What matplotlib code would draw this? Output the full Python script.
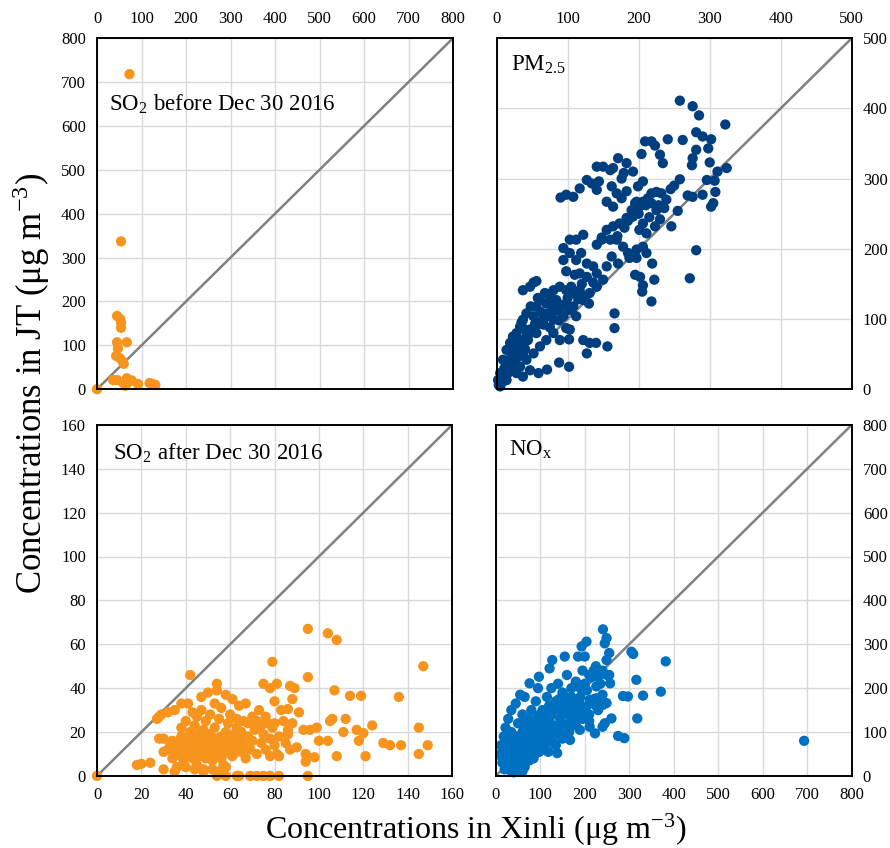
import numpy as np
import matplotlib
matplotlib.use("Agg")
import matplotlib.pyplot as plt

plt.rcParams['font.family'] = ['Liberation Serif', 'DejaVu Serif']
plt.rcParams['mathtext.fontset'] = 'stix'

# SO2 before Dec 30 2016 (Xinli, JT)
so2_pre_x = [0, 73, 54, 45, 52, 54, 54, 45, 67, 47, 43, 51, 58, 60,
             36, 45, 64, 67, 71, 92, 118, 131, 64, 58, 78, 125]
so2_pre_y = [0, 718, 337, 167, 160, 152, 140, 107, 107, 93, 76, 71, 63, 58,
             21, 21, 8, 25, 17, 12, 14, 10, 18, 15, 20, 12]

# PM2.5
pm_x = [258, 276, 285, 322, 281, 290, 302, 298, 281, 262, 241, 218, 223, 209, 204,
        230, 234, 276, 275, 300, 311, 324, 258, 296, 307, 308, 305, 302, 290, 276,
        269, 255, 246, 281, 272, 218, 222, 219, 206, 205, 202, 195, 197, 187, 156,
        166, 166, 140, 131, 127, 122, 102, 89, 88, 102, 71, 59, 148, 89, 88,
        103, 98, 37, 52, 47, 56, 94, 98, 105, 98,
        90, 98, 108, 117, 127, 134, 141, 144, 141, 150, 160, 164, 171, 183, 192,
        179, 176, 169, 162, 155, 164, 176, 183, 199, 206, 197, 201, 206, 213, 218,
        225, 232, 239, 218, 225, 230, 223, 211, 201, 206, 192, 183, 173, 164, 155,
        148, 141, 160, 169, 178, 185, 197, 206, 211, 171, 162, 155, 150, 141, 131,
        136, 127, 119, 112, 103, 94, 103, 112, 122, 110, 117, 127, 136, 141, 89,
        80, 75, 68, 61, 56, 70, 80, 84, 98, 108, 117, 122, 103, 112, 94,
        80, 70, 61, 52, 42, 37, 33, 28, 23, 19, 14, 9, 5, 2, 9,
        16, 23, 33, 42, 52, 61, 70, 80, 42, 47, 56, 33, 37, 28, 23,
        19, 28, 37, 47, 14, 7, 5, 12, 25, 30, 44, 35, 62, 66, 75,
        48, 58, 38, 20, 26, 31, 40, 54, 11, 17,
        190, 195, 200, 210, 215, 185, 180, 170, 228, 236, 245, 250, 120, 125, 130,
        115, 108, 100, 92, 85, 78, 72, 66, 60, 54, 48, 44, 40, 36, 32,
        27, 22, 18, 15, 12, 10, 8, 6, 4, 3, 20, 24, 29, 34, 39]
pm_y = [411, 403, 390, 377, 366, 360, 356, 343, 341, 355, 356, 353, 347, 353, 335,
        334, 322, 329, 319, 323, 310, 315, 299, 298, 297, 281, 265, 260, 277, 274,
        276, 254, 232, 198, 158, 125, 156, 179, 148, 139, 160, 163, 187, 187, 61,
        108, 87, 66, 66, 51, 70, 71, 70, 38, 32, 28, 23, 216, 113, 98,
        85, 87, 141, 152, 146, 154, 184, 168, 146, 122,
        273, 277, 274, 286, 298, 293, 284, 296, 317, 317, 312, 315, 329, 322, 310,
        308, 300, 279, 289, 267, 260, 272, 282, 289, 296, 267, 260, 267, 272, 279,
        281, 279, 270, 265, 255, 242, 232, 222, 227, 236, 246, 244, 236, 232, 227,
        213, 206, 213, 213, 203, 194, 199, 203, 194, 179, 189, 175, 156, 146, 137,
        175, 179, 194, 184, 194, 201, 213, 213, 220, 163, 165, 160, 152, 165, 146,
        141, 132, 137, 127, 118, 122, 113, 127, 141, 137, 141, 127, 113, 104, 104,
        99, 104, 94, 104, 108, 99, 89, 80, 75, 66, 56, 42, 23, 13, 18,
        23, 27, 32, 42, 51, 61, 70, 80, 75, 85, 80, 61, 51, 47, 37,
        32, 23, 18, 27, 13, 9, 4, 17, 52, 60, 70, 95, 110, 92, 88,
        118, 130, 86, 44, 65, 48, 57, 93, 30, 40,
        255, 265, 250, 262, 245, 240, 230, 218, 262, 258, 285, 290, 150, 132, 122,
        128, 118, 130, 120, 112, 120, 108, 100, 95, 88, 82, 76, 68, 70, 62,
        55, 48, 42, 35, 28, 22, 14, 11, 8, 6, 38, 30, 45, 54, 66]

# SO2 after Dec 30 2016
so2_post_x = [0, 95, 104, 108, 79, 147, 42, 95, 107, 114, 119, 136, 124, 145, 149,
              129, 132, 137, 145, 121, 108, 112, 105, 106, 99, 96, 93, 117, 111, 120,
              118, 104, 100, 94, 98, 94, 90, 87, 86, 91, 88, 87, 89, 81, 75,
              78, 80, 83, 86, 80, 82, 81,
              54, 58, 63, 64, 69, 72, 75, 78, 82, 95,
              18, 20, 24, 28, 30, 27, 28, 29, 32, 35, 38, 41, 43, 30, 32,
              33, 34, 35, 36, 36, 37, 38, 38, 39, 40, 40, 40, 41, 42, 42,
              43, 43, 44, 44, 45, 45, 45, 46, 46, 47, 47, 47, 48, 48, 48,
              49, 49, 50, 50, 50, 51, 51, 52, 52, 52, 53, 53, 54, 54, 55,
              55, 55, 56, 56, 57, 57, 58, 58, 59, 59, 60, 60, 61, 61, 62,
              62, 63, 63, 64, 64, 65, 65, 66, 66, 67, 67, 68, 68, 69, 70,
              70, 71, 72, 72, 73, 74, 74, 75, 76, 76, 77, 78, 78, 79, 80,
              82, 84, 85, 86, 88, 30, 35, 40, 44, 48, 52, 55, 58,
              33, 34, 35, 36, 37, 38, 39, 40, 41, 42, 43, 44, 45, 46, 47,
              48, 49, 50, 51, 52, 53, 54, 55, 56, 57, 58, 59, 60, 61, 62, 63]
so2_post_y = [0, 67, 65, 62, 52, 50, 46, 45, 39, 36.5, 36.5, 36, 23, 22, 14,
              15, 14, 14, 10, 9, 9, 26, 25, 26, 22, 21, 21, 21, 20, 19.5,
              16, 16, 16, 10, 8.5, 6.5, 13, 12, 21, 29, 35, 41, 40, 42, 42,
              40, 34, 30, 30.5, 24, 9, 10,
              0, 0, 0, 0, 0, 0, 0, 0, 0, 0,
              5, 5.5, 6, 17, 17, 26, 27, 28, 29, 30, 33, 33, 29, 11, 12,
              14, 8, 10, 15, 4, 12, 18, 22, 6, 13, 16, 25, 10, 20, 14,
              8, 17, 11, 23, 27, 13, 5, 19, 9, 15, 30, 36, 12, 21, 3,
              17, 25, 10, 14, 38, 19, 28, 7, 12, 16, 22, 33, 39, 42, 10,
              15, 26, 18, 31, 13, 5, 20, 37, 11, 24, 16, 28, 35, 9, 19,
              13, 26, 22, 17, 32, 11, 20, 25, 14, 33, 8, 18, 24, 12, 27,
              16, 21, 10, 25, 30, 15, 23, 19, 12, 27, 24, 17, 9, 22, 14,
              18, 25, 15, 19, 24, 3, 2, 4, 3, 2, 3, 2, 4,
              12, 16, 13, 11, 16, 9, 14, 11, 17, 12, 14, 16, 9, 13, 11,
              16, 8, 12, 15, 10, 13, 17, 12, 8, 16, 13, 15, 10, 14, 16, 11]

# NOx
nox_x = [693, 382, 371, 331, 316, 318, 309, 305, 286, 297, 289, 275, 241, 249, 245,
         255, 249, 255, 257, 260, 241, 249, 240, 204, 193, 185, 200, 155, 127, 121,
         97, 76, 95, 138, 223, 211, 189, 167, 226, 226, 211, 204, 189, 174, 167,
         15, 20, 25, 25, 30, 30, 35, 35, 40, 40, 45, 45, 50, 50, 55,
         55, 60, 60, 65, 65, 70, 70, 75, 75, 80, 80, 85, 85, 90, 90,
         95, 95, 100, 100, 105, 105, 110, 110, 115, 115, 120, 120, 125, 125, 130,
         130, 135, 140, 140, 145, 150, 150, 155, 160, 160, 165, 170, 170, 175, 180,
         185, 190, 195, 200, 205, 210, 215, 220, 225, 230, 235, 240, 245, 250,
         10, 12, 18, 22, 28, 35, 45, 55, 65, 20, 35, 50, 65, 75, 85, 60, 40,
         60, 65, 70, 75, 80, 85, 90, 95, 100, 105, 110, 60, 70, 80, 90, 100,
         110, 120, 130, 140, 150, 160, 170, 180, 190, 200, 210, 220, 230, 240,
         15, 25, 32, 42, 52, 62, 72, 82, 92, 102, 112, 122, 132, 142, 152,
         48, 58, 68, 78, 88, 98, 108, 118, 128, 138, 148, 158, 168, 178, 188,
         22, 38, 55, 72, 88, 105, 118, 135, 150, 165, 180, 195, 210, 225, 240]
nox_y = [80, 261, 192, 183, 219, 131, 278, 283, 182, 181, 86, 91, 334, 314, 302,
         280, 264, 230, 211, 131, 162, 166, 112, 306, 295, 272, 272, 272, 264, 245,
         226, 211, 200, 52, 97, 112, 105, 82, 204, 177, 173, 158, 150, 158, 143,
         30, 45, 20, 60, 35, 80, 50, 100, 25, 70, 90, 40, 60, 120, 80,
         30, 100, 140, 50, 70, 110, 85, 130, 60, 95, 150, 75, 115, 100, 170,
         60, 135, 85, 120, 150, 100, 70, 130, 180, 110, 90, 160, 140, 200, 115,
         75, 170, 95, 210, 130, 155, 190, 110, 170, 230, 140, 200, 120, 160, 215,
         135, 180, 240, 150, 195, 125, 225, 175, 250, 150, 210, 185, 120, 230,
         50, 70, 90, 110, 130, 150, 165, 185, 180, 15, 10, 15, 20, 35, 40, 10, 8,
         80, 95, 75, 100, 70, 90, 120, 105, 95, 75, 105, 120, 130, 115, 80, 140,
         150, 125, 150, 160, 140, 150, 180, 165, 200, 210, 230, 240, 225, 240,
         40, 55, 65, 75, 85, 95, 105, 115, 125, 135, 140, 150, 160, 175, 185,
         25, 45, 35, 50, 65, 55, 90, 80, 100, 110, 120, 95, 130, 145, 165,
         25, 20, 45, 35, 50, 60, 55, 70, 85, 100, 115, 130, 140, 160, 170]

orange = '#F7941D'
navy = '#003F7F'
blue = '#0070C0'

fig = plt.figure(figsize=(8.9, 8.48), dpi=100)
ax_tl = fig.add_axes([0.109, 0.541, 0.400, 0.414])
ax_tr = fig.add_axes([0.558, 0.541, 0.399, 0.414])
ax_bl = fig.add_axes([0.109, 0.085, 0.399, 0.414])
ax_br = fig.add_axes([0.557, 0.085, 0.400, 0.414])

panels = [
    (ax_tl, so2_pre_x, so2_pre_y, orange, 800, 100,
     'SO$_\\mathregular{2}$ before Dec 30 2016', 'top', 'left', 0.035, 0.815),
    (ax_tr, pm_x, pm_y, navy, 500, 100,
     'PM$_\\mathregular{2.5}$', 'top', 'right', 0.04, 0.925),
    (ax_bl, so2_post_x, so2_post_y, orange, 160, 20,
     'SO$_\\mathregular{2}$ after Dec 30 2016', 'bottom', 'left', 0.045, 0.92),
    (ax_br, nox_x, nox_y, blue, 800, 100,
     'NO$_\\mathregular{x}$', 'bottom', 'right', 0.037, 0.93),
]

for ax, xs, ys, col, top, step, label, xside, yside, lx, ly in panels:
    ticks = np.arange(0, top + 1, step)
    ax.set_xlim(0, top)
    ax.set_ylim(0, top)
    ax.set_xticks(ticks)
    ax.set_yticks(ticks)
    ax.grid(True, color='#d9d9d9', lw=1.0)
    ax.set_axisbelow(True)
    ax.plot([0, top], [0, top], color='#808080', lw=1.8, zorder=2)
    ax.scatter(xs, ys, s=55, color=col, edgecolors='none', zorder=3, clip_on=False)
    for sp in ax.spines.values():
        sp.set_color('black')
        sp.set_linewidth(1.4)
        sp.set_zorder(4)
    if xside == 'top':
        ax.xaxis.tick_top()
    if yside == 'right':
        ax.yaxis.tick_right()
    ax.tick_params(length=0, labelsize=12, pad=8)
    ax.text(lx, ly, label, transform=ax.transAxes, fontsize=16.5, va='center', ha='left')

fig.text(0.035, 0.548, 'Concentrations in JT (μg m$^\\mathregular{-3}$)', rotation=90,
         fontsize=25, ha='center', va='center')
fig.text(0.535, 0.022, 'Concentrations in Xinli (μg m$^\\mathregular{-3}$)',
         fontsize=23, ha='center', va='center')

fig.savefig('out.png', dpi=100)
